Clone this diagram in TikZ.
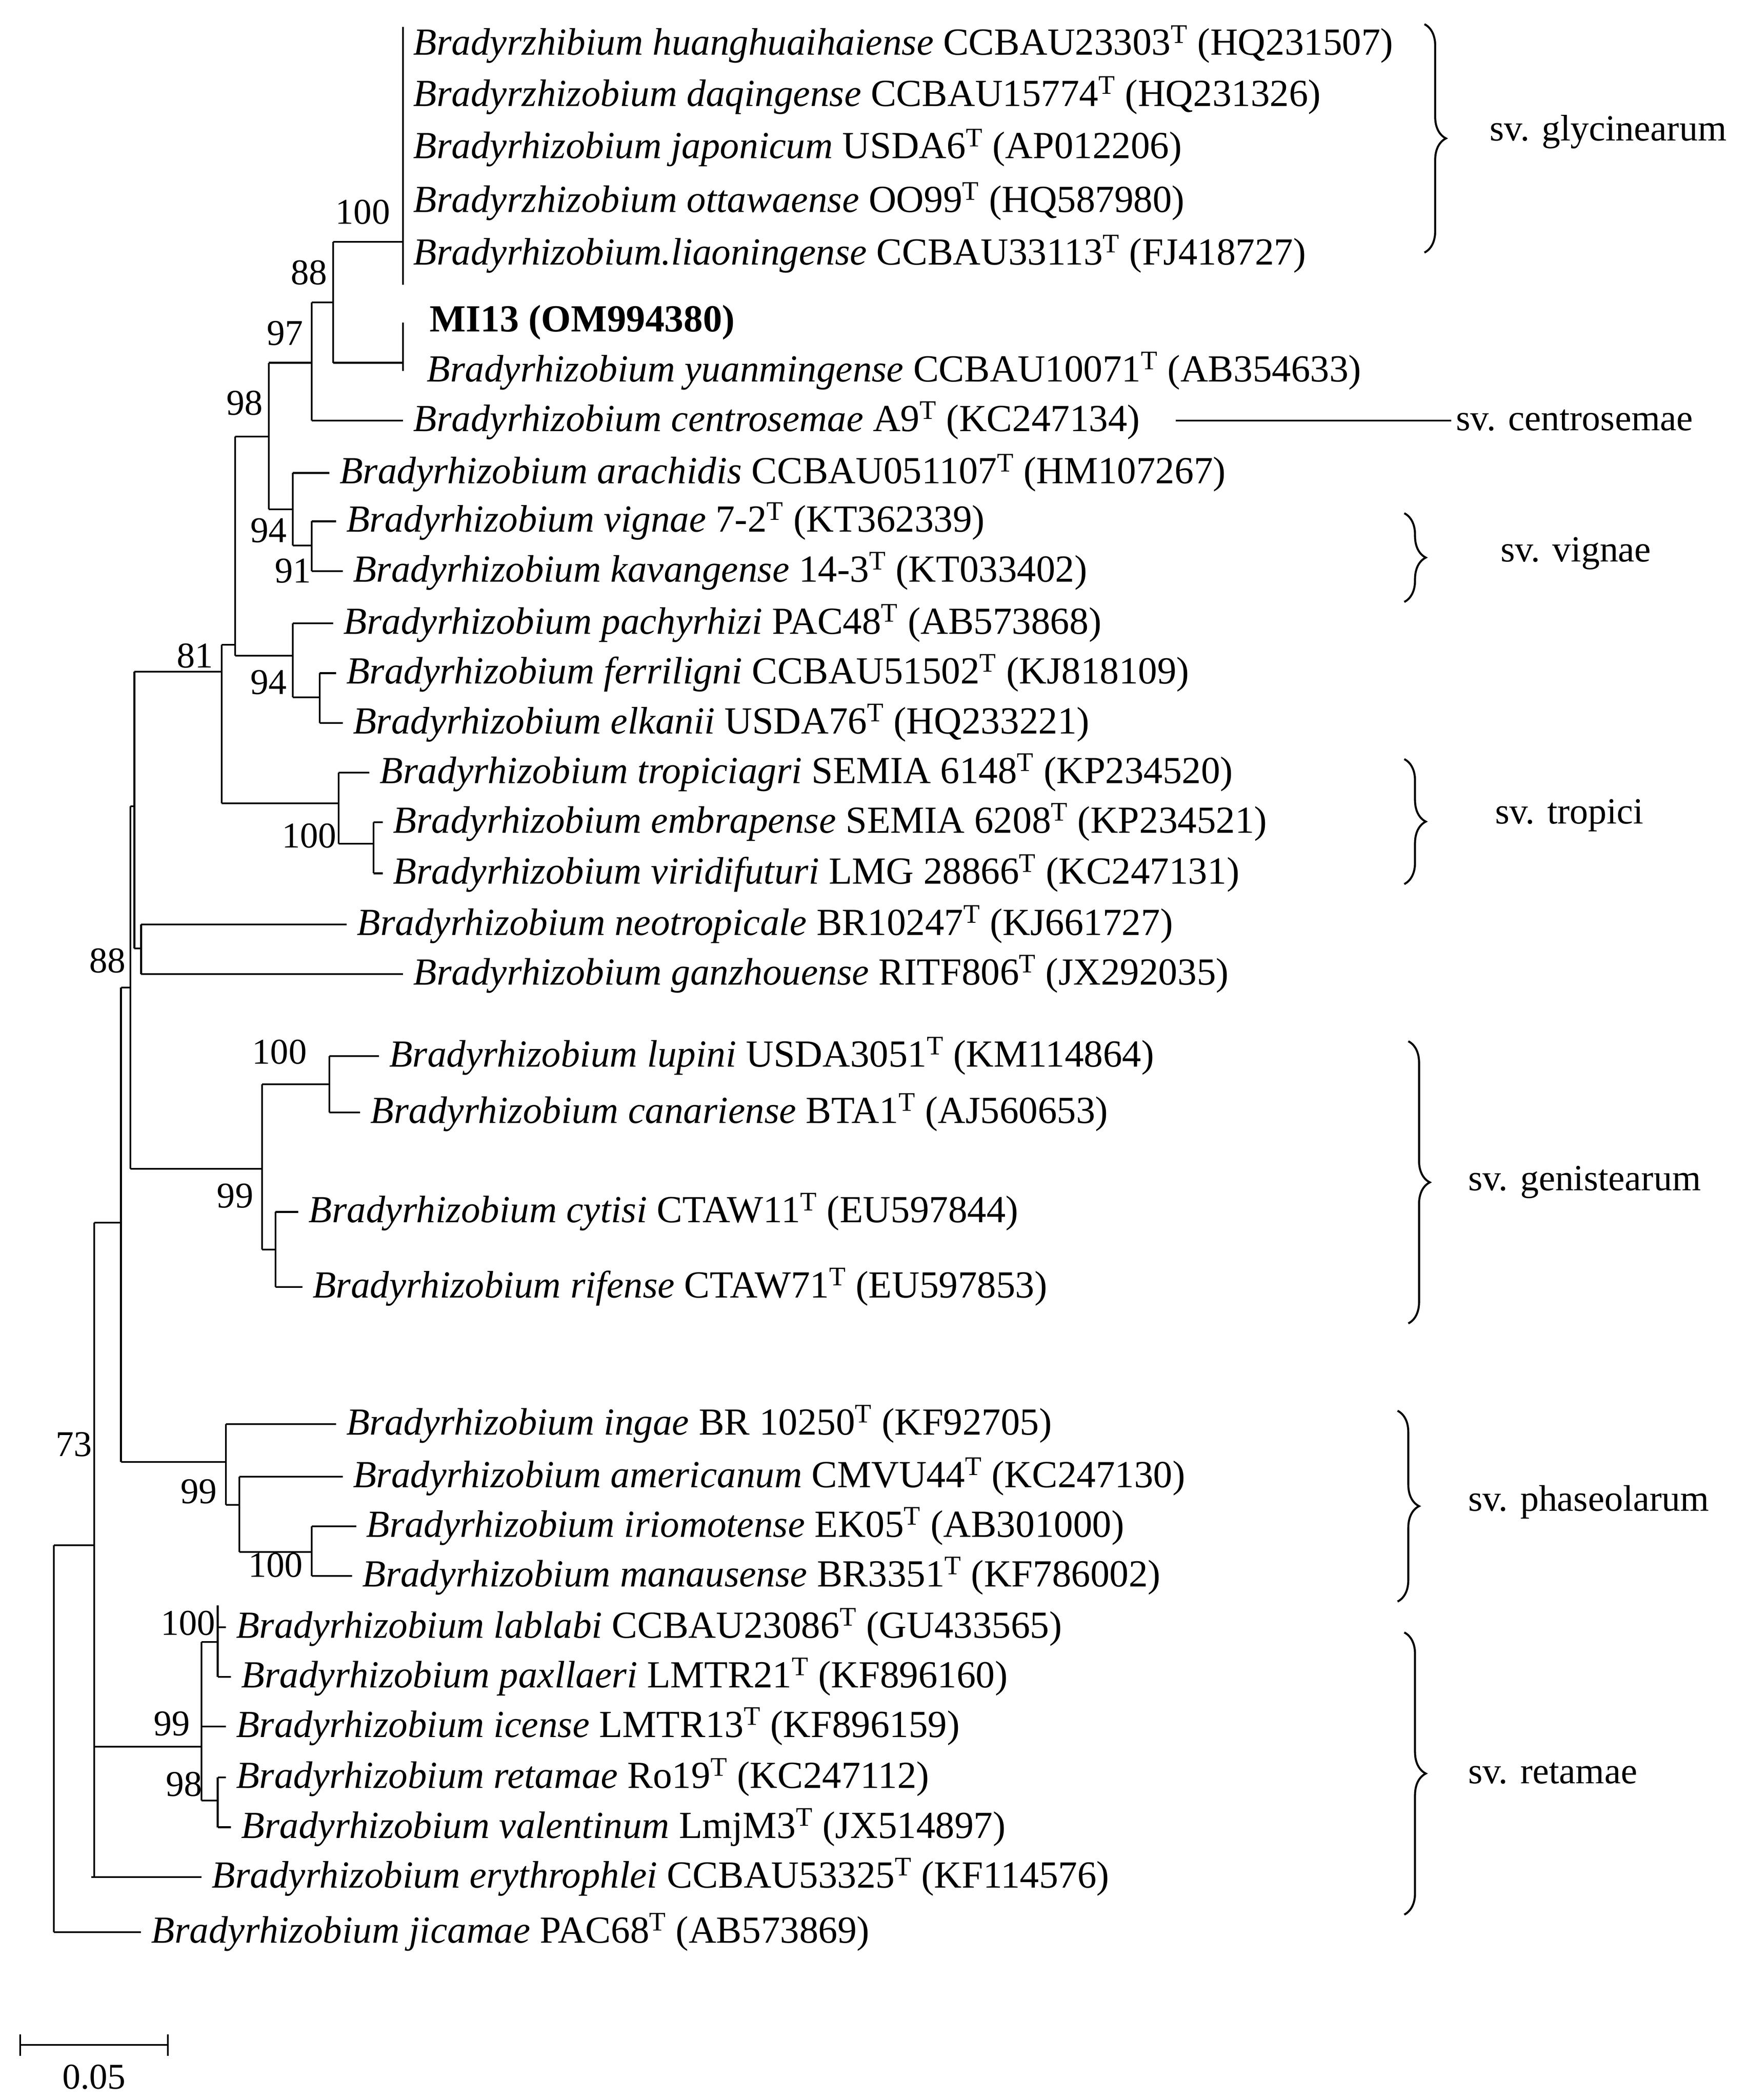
\documentclass[tikz,border=0pt]{standalone}
\usepackage{fontspec}
\setmainfont{Liberation Serif}
\usetikzlibrary{decorations.pathreplacing}
\begin{document}
\begin{tikzpicture}[x=1pt,y=-1pt,line width=1.3pt,
 leaf/.style={anchor=west,inner sep=0pt,xshift=7pt,font=\fontsize{28.5}{32}\selectfont},
 sv/.style={anchor=west,inner sep=0pt,font=\fontsize{27.5}{31}\selectfont},
 lab/.style={inner sep=0pt,font=\fontsize{27}{30}\selectfont},
 br/.style={decorate,decoration={brace,amplitude=16pt},line width=1.5pt}]
\useasboundingbox (0,0) rectangle (1300,1563);
\newcommand{\lf}[5]{\draw (#1,#3) -- (#2,#3); \node[leaf] (#5) at (#2,#3) {#4};}
% glycinearum
\draw (300,20) -- (300,212);
\foreach \y/\t/\n in {33/{\textit{Bradyrzhibium huanghuaihaiense} CCBAU23303\textsuperscript{T} (HQ231507)}/a1,
 71/{\textit{Bradyrzhizobium daqingense} CCBAU15774\textsuperscript{T} (HQ231326)}/a2,
 110/{\textit{Bradyrhizobium japonicum} USDA6\textsuperscript{T} (AP012206)}/a3,
 150/{\textit{Bradyrzhizobium ottawaense} OO99\textsuperscript{T} (HQ587980)}/a4,
 189/{\textit{Bradyrhizobium.liaoningense} CCBAU33113\textsuperscript{T} (FJ418727)}/a5}
 {\node[leaf] (\n) at (300,\y) {\t};}
\draw (248,180) -- (300,180);
\node[lab] at (270,158) {100};
\draw (300,240) -- (300,276);
\node[leaf,xshift=12pt] (mi) at (300,240) {\textbf{MI13 (OM994380)}};
\node[leaf,xshift=10pt] (yu) at (300,276) {\textit{Bradyrhizobium yuanmingense} CCBAU10071\textsuperscript{T} (AB354633)};
\draw (248,270) -- (300,270);
\draw (248,180) -- (248,270);
\node[lab] at (230,203) {88};
\draw (232,225) -- (248,225);
\lf{232}{300}{313}{\textit{Bradyrhizobium centrosemae} A9\textsuperscript{T} (KC247134)}{ce}
\draw (232,225) -- (232,313);
\node[lab] at (212,248) {97};
\draw (200,270) -- (232,270);
\lf{218}{245}{352}{\textit{Bradyrhizobium arachidis} CCBAU051107\textsuperscript{T} (HM107267)}{ar}
\lf{232}{250}{388}{\textit{Bradyrhizobium vignae} 7-2\textsuperscript{T} (KT362339)}{vi}
\lf{232}{255}{425}{\textit{Bradyrhizobium kavangense} 14-3\textsuperscript{T} (KT033402)}{ka}
\draw (232,388) -- (232,425); \draw (218,406) -- (232,406);
\node[lab] at (218,425) {91};
\draw (218,352) -- (218,406);
\node[lab] at (200,395) {94};
\draw (200,379) -- (218,379);
\draw (200,270) -- (200,379);
\node[lab] at (182,300) {98};
\draw (175,325) -- (200,325);
\lf{218}{248}{464}{\textit{Bradyrhizobium pachyrhizi} PAC48\textsuperscript{T} (AB573868)}{pa}
\lf{238}{250}{501}{\textit{Bradyrhizobium ferriligni} CCBAU51502\textsuperscript{T} (KJ818109)}{fe}
\lf{238}{255}{538}{\textit{Bradyrhizobium elkanii} USDA76\textsuperscript{T} (HQ233221)}{el}
\draw (238,501) -- (238,538); \draw (218,519) -- (238,519);
\draw (218,464) -- (218,519);
\node[lab] at (200,508) {94};
\draw (175,488) -- (218,488);
\draw (175,325) -- (175,488);
\draw (165,480) -- (175,480);
\lf{252}{275}{575}{\textit{Bradyrhizobium tropiciagri} SEMIA 6148\textsuperscript{T} (KP234520)}{tr}
\lf{278}{285}{612}{\textit{Bradyrhizobium embrapense} SEMIA 6208\textsuperscript{T} (KP234521)}{em}
\lf{278}{285}{650}{\textit{Bradyrhizobium viridifuturi} LMG 28866\textsuperscript{T} (KC247131)}{vf}
\draw (278,612) -- (278,650); \draw (252,628) -- (278,628);
\draw (252,575) -- (252,628);
\node[lab] at (230,622) {100};
\draw (165,598) -- (252,598);
\draw (165,480) -- (165,598);
\draw (100,500) -- (165,500);
\node[lab] at (145,488) {81};
\lf{105}{258}{688}{\textit{Bradyrhizobium neotropicale} BR10247\textsuperscript{T} (KJ661727)}{ne}
\lf{105}{300}{725}{\textit{Bradyrhizobium ganzhouense} RITF806\textsuperscript{T} (JX292035)}{ga}
\draw (105,688) -- (105,725); \draw (100,706) -- (105,706);
\draw (100,500) -- (100,706);
\draw (97,600) -- (100,600);
% genistearum
\lf{245}{282}{786}{\textit{Bradyrhizobium lupini} USDA3051\textsuperscript{T} (KM114864)}{lu}
\lf{245}{268}{828}{\textit{Bradyrhizobium canariense} BTA1\textsuperscript{T} (AJ560653)}{ca}
\draw (245,786) -- (245,828); \draw (195,807) -- (245,807);
\node[lab] at (208,783) {100};
\lf{205}{222}{902}{\textit{Bradyrhizobium cytisi} CTAW11\textsuperscript{T} (EU597844)}{cy}
\lf{205}{225}{958}{\textit{Bradyrhizobium rifense} CTAW71\textsuperscript{T} (EU597853)}{ri}
\draw (205,902) -- (205,958); \draw (195,930) -- (205,930);
\draw (195,807) -- (195,930);
\node[lab] at (175,890) {99};
\draw (97,870) -- (195,870);
\draw (97,600) -- (97,870);
\node[lab] at (80,715) {88};
\draw (90,735) -- (97,735);
% phaseolarum
\lf{168}{250}{1060}{\textit{Bradyrhizobium ingae} BR 10250\textsuperscript{T} (KF92705)}{in}
\lf{178}{255}{1099}{\textit{Bradyrhizobium americanum} CMVU44\textsuperscript{T} (KC247130)}{am}
\lf{232}{265}{1136}{\textit{Bradyrhizobium iriomotense} EK05\textsuperscript{T} (AB301000)}{ir}
\lf{232}{262}{1173}{\textit{Bradyrhizobium manausense} BR3351\textsuperscript{T} (KF786002)}{ma}
\draw (232,1136) -- (232,1173); \draw (178,1155) -- (232,1155);
\node[lab] at (205,1165) {100};
\draw (178,1099) -- (178,1155); \draw (168,1120) -- (178,1120);
\draw (168,1060) -- (168,1120);
\node[lab] at (148,1110) {99};
\draw (90,1088) -- (168,1088);
\draw (90,735) -- (90,1088);
\draw (70,910) -- (90,910);
% retamae
\lf{162}{168}{1211}{\textit{Bradyrhizobium lablabi} CCBAU23086\textsuperscript{T} (GU433565)}{la}
\lf{162}{172}{1248}{\textit{Bradyrhizobium paxllaeri} LMTR21\textsuperscript{T} (KF896160)}{px}
\draw (162,1195) -- (162,1248); \draw (150,1222) -- (162,1222);
\node[lab] at (140,1208) {100};
\lf{150}{168}{1285}{\textit{Bradyrhizobium icense} LMTR13\textsuperscript{T} (KF896159)}{ic}
\lf{162}{168}{1323}{\textit{Bradyrhizobium retamae} Ro19\textsuperscript{T} (KC247112)}{re}
\lf{162}{172}{1360}{\textit{Bradyrhizobium valentinum} LmjM3\textsuperscript{T} (JX514897)}{va}
\draw (162,1323) -- (162,1360); \draw (150,1340) -- (162,1340);
\node[lab] at (137,1328) {98};
\draw (150,1222) -- (150,1340);
\node[lab] at (128,1283) {99};
\draw (70,1300) -- (150,1300);
\lf{68}{150}{1397}{\textit{Bradyrhizobium erythrophlei} CCBAU53325\textsuperscript{T} (KF114576)}{er}
\draw (70,910) -- (70,1397);
\node[lab] at (55,1075) {73};
\draw (40,1150) -- (70,1150);
\lf{40}{105}{1438}{\textit{Bradyrhizobium jicamae} PAC68\textsuperscript{T} (AB573869)}{ji}
\draw (40,1150) -- (40,1438);
% braces
\draw[br] (1060,18) -- (1060,188);
\node[sv] (s1) at (1108,98) {sv. glycinearum};
\draw (875,313) -- (1080,313);
\node[sv] (s2) at (1083,313) {sv. centrosemae};
\draw[br] (1045,382) -- (1045,448);
\node[sv] (s3) at (1116,412) {sv. vignae};
\draw[br] (1045,565) -- (1045,658);
\node[sv] (s4) at (1112,607) {sv. tropici};
\draw[br] (1048,775) -- (1048,985);
\node[sv] (s5) at (1092,880) {sv. genistearum};
\draw[br] (1040,1050) -- (1040,1192);
\node[sv] (s6) at (1092,1118) {sv. phaseolarum};
\draw[br] (1045,1215) -- (1045,1425);
\node[sv] (s7) at (1092,1320) {sv. retamae};
% scale
\draw (15,1522) -- (125,1522); \draw (15,1514) -- (15,1530); \draw (125,1514) -- (125,1530);
\node[lab] (sc) at (70,1546) {0.05};
\end{tikzpicture}
\end{document}
